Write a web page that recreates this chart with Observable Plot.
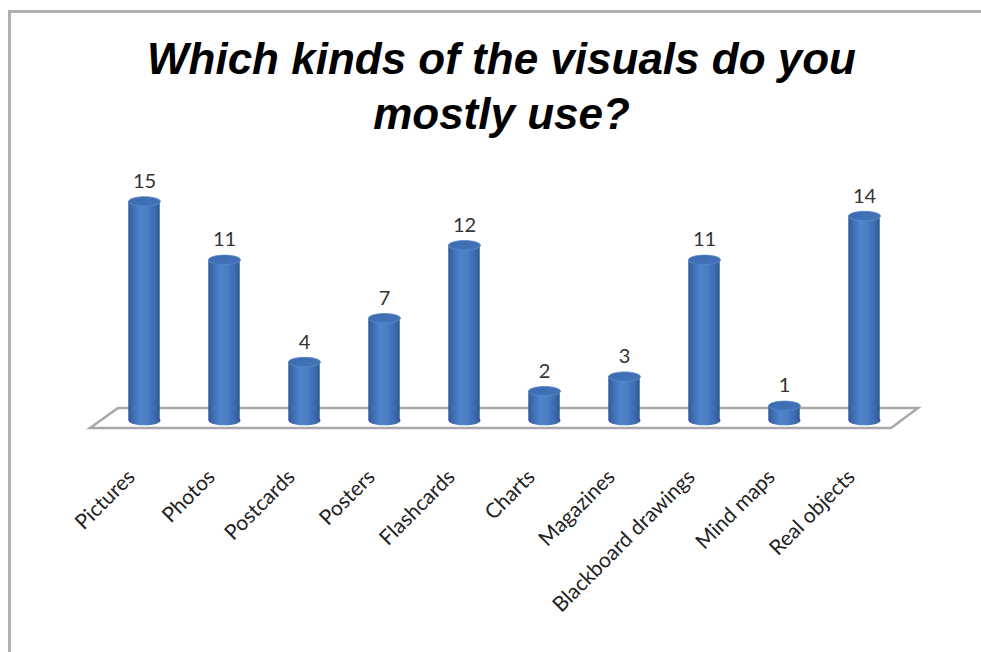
<!DOCTYPE html>
<html>
<head>
<meta charset="utf-8">
<script src="https://cdn.jsdelivr.net/npm/d3@7"></script>
<script src="https://cdn.jsdelivr.net/npm/@observablehq/plot@0.6"></script>
<style>
  html, body { margin: 0; padding: 0; background: #fff; }
  #page { position: relative; width: 981px; height: 652px; overflow: hidden; background: #fff; }
  #frame { position: absolute; left: 8px; top: 10px; right: -5px; bottom: -5px;
           border-top: 3px solid #b0b0b0; border-left: 3px solid #b0b0b0; }
  #title { position: absolute; left: 0; top: 0; width: 981px; height: 150px; box-sizing: border-box;
           padding-left: 22px; padding-top: 31px; text-align: center;
           font-family: "Liberation Sans", Arial, sans-serif; font-weight: bold; font-style: italic;
           font-size: 44px; line-height: 55px; color: #000; }
  #chart { position: absolute; left: 0; top: 150px; }
</style>
</head>
<body>
<svg width="0" height="0" style="position:absolute">
  <defs>
    <linearGradient id="cylBody" x1="0" x2="1" y1="0" y2="0">
      <stop offset="0" stop-color="#2d5894"/>
      <stop offset="0.12" stop-color="#3b6bb0"/>
      <stop offset="0.38" stop-color="#4f84cb"/>
      <stop offset="0.6" stop-color="#4b7ec4"/>
      <stop offset="0.88" stop-color="#3a68ab"/>
      <stop offset="1" stop-color="#2b548e"/>
    </linearGradient>
    <linearGradient id="cylTop" x1="0" x2="1" y1="0" y2="1">
      <stop offset="0" stop-color="#3a69ae"/>
      <stop offset="1" stop-color="#4676ba"/>
    </linearGradient>
  </defs>
</svg>
<div id="page">
  <div id="frame"></div>
  <div id="title">Which kinds of the visuals do you<br>mostly use?</div>
  <div id="chart"></div>
</div>
<script>
const categories = ["Pictures", "Photos", "Postcards", "Posters", "Flashcards", "Charts", "Magazines", "Blackboard drawings", "Mind maps", "Real objects"];
const counts = [15, 11, 4, 7, 12, 2, 3, 11, 1, 14];

const data = categories.map((c, i) => ({category: c, value: counts[i]}));

const ellipse = {
  draw(ctx, size) {
    const rx = Math.sqrt(size / Math.PI);
    const ry = rx * 0.3;
    const k = 0.5523;
    ctx.moveTo(-rx, 0);
    ctx.bezierCurveTo(-rx, -ry * k, -rx * k, -ry, 0, -ry);
    ctx.bezierCurveTo(rx * k, -ry, rx, -ry * k, rx, 0);
    ctx.bezierCurveTo(rx, ry * k, rx * k, ry, 0, ry);
    ctx.bezierCurveTo(-rx * k, ry, -rx, ry * k, -rx, 0);
    ctx.closePath();
  }
};

function floor(index, scales, values, dimensions) {
  const x0 = scales.x(categories[0]);
  const x1 = scales.x(categories[categories.length - 1]) + scales.x.bandwidth();
  const y0 = scales.y(0);
  const pts = [[x0 + 14, y0 - 12], [x1 + 14, y0 - 12], [x1 - 13, y0 + 8], [x0 - 14, y0 + 8]];
  const g = d3.create("svg:path")
    .attr("d", "M" + pts.map(p => p.join(",")).join("L") + "Z")
    .attr("fill", "#ffffff")
    .attr("stroke", "#a8a8a8")
    .attr("stroke-width", 2.5)
    .attr("stroke-linejoin", "miter");
  return g.node();
}

const barR = 16;
const labelFont = "Lato, 'Open Sans', sans-serif";
const plot = Plot.plot({
  width: 981,
  height: 502,
  marginLeft: 100.75,
  marginRight: 74.75,
  marginTop: 51,
  marginBottom: 232,
  x: {domain: categories, padding: 0, axis: null},
  y: {domain: [0, 15], axis: null},
  marks: [
    floor,
    Plot.dot(data, {x: "category", y: () => 0, r: barR, symbol: ellipse, fill: "url(#cylBody)", stroke: "none"}),
    Plot.barY(data, {x: "category", y: "value", fill: "url(#cylBody)", insetLeft: 24.3, insetRight: 24.3}),
    Plot.dot(data, {x: "category", y: "value", r: barR, symbol: ellipse, fill: "url(#cylTop)", stroke: "#5a8ad0", strokeWidth: 0.8}),
    Plot.text(data, {x: "category", y: "value", text: d => String(d.value), dy: -20,
      fontSize: 20, fill: "#333", fontFamily: labelFont}),
    Plot.text(data, {x: "category", y: () => 0, text: "category", dy: 53, dx: -13, rotate: -45,
      textAnchor: "end", lineAnchor: "middle", fontSize: 21, fill: "#222", fontFamily: labelFont})
  ]
});
plot.style.background = "transparent";
plot.style.overflow = "visible";
document.getElementById("chart").appendChild(plot);
</script>
</body>
</html>
